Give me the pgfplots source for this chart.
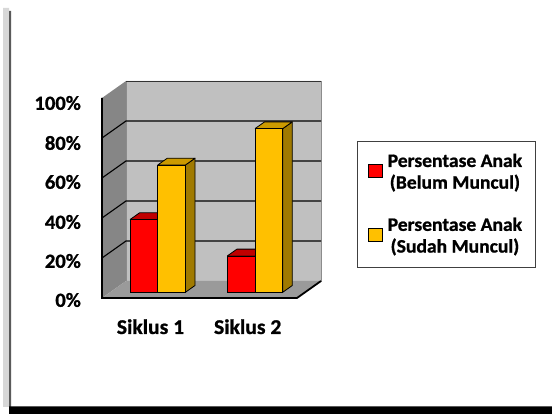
\documentclass[border=0pt]{standalone}
\usepackage{fontspec}
\setmainfont{Carlito}[FakeStretch=1.03, BoldFeatures={FakeBold=1}]
\usepackage{pgfplots}
\pgfplotsset{compat=1.18}
\definecolor{barred}{HTML}{FF0000}
\definecolor{redtop}{HTML}{C00000}
\definecolor{baryel}{HTML}{FFC000}
\definecolor{yeltop}{HTML}{CC9A00}
\definecolor{yelside}{HTML}{A07A00}
\definecolor{backwall}{HTML}{C0C0C0}
\definecolor{sidewall}{HTML}{868686}
\definecolor{floorc}{HTML}{9A9A9A}
\definecolor{frameline}{HTML}{5A5A5A}
\definecolor{shadowc}{HTML}{D8D8D8}
\begin{document}
\fontsize{19pt}{21.7pt}\selectfont\bfseries
\begin{tikzpicture}
\begin{axis}[
  x=1pt, y=2pt,
  xmin=0, xmax=552, ymin=-60.85, ymax=146.15,
  axis line style={draw=none},
  tick style={draw=none},
  major tick length=0pt,
  ytick={-3.85,15.65,35.15,55.15,74.65,94.65},
  yticklabels={0\%,20\%,40\%,60\%,80\%,100\%},
  xtick={150.5,247.7},
  xticklabels={Siklus 1,Siklus 2},
  tick label style={inner sep=0pt},
  y tick label style={anchor=east, xshift=81pt, font={\fontsize{20pt}{22pt}\selectfont\bfseries}},
  x tick label style={anchor=center, yshift=87.3pt, font={\fontsize{21pt}{23pt}\selectfont\bfseries}},
  clip=false,
  legend style={at={(0.8080,0.5060)}, anchor=center, draw=black!75,
    line width=0.6pt, fill=white, inner xsep=11pt, inner ysep=10pt,
    row sep=22pt, nodes={align=center, inner sep=2pt},
    font={\fontsize{19pt}{21.7pt}\selectfont\bfseries}},
  legend cell align=left,
]
% frame / shadow
\addplot[forget plot, fill=shadowc, draw=none] coordinates {(3,142.15) (9,142.15) (9,-57.35) (3,-57.35) (3,142.15)};
\addplot[forget plot, fill=frameline, draw=none] coordinates {(9,140.65) (11,140.65) (11,-57.35) (9,-57.35) (9,140.65)};
\addplot[forget plot, fill=black, draw=none] coordinates {(9,-57.1) (552,-57.1) (552,-60.85) (9,-60.85) (9,-57.1)};
% walls
\addplot[forget plot, fill=sidewall, draw=none] coordinates {(102,-2.85) (126,5.65) (126,105.65) (102,97.15) (102,-2.85)};
\addplot[forget plot, fill=backwall, draw=black!45, line width=0.5pt] coordinates {(126,5.65) (321,5.65) (321,105.65) (126,105.65) (126,5.65)};
\addplot[forget plot, fill=floorc, draw=none] coordinates {(102,-2.85) (297,-2.85) (321,5.65) (126,5.65) (102,-2.85)};
% gridlines
\addplot[forget plot, black, line width=1.1pt] coordinates {(102,17.15) (126,25.65) (321,25.65)};
\addplot[forget plot, black, line width=1.1pt] coordinates {(102,37.15) (126,45.65) (321,45.65)};
\addplot[forget plot, black, line width=1.1pt] coordinates {(102,57.15) (126,65.65) (321,65.65)};
\addplot[forget plot, black, line width=1.1pt] coordinates {(102,77.15) (126,85.65) (321,85.65)};
\addplot[forget plot, black!80, line width=0.8pt] coordinates {(126,105.65) (321,105.65)};
% axis edges
\addplot[forget plot, black, line width=1.8pt] coordinates {(102,97.15) (102,-2.85) (297,-2.85) (321,5.65)};
% red bar tops
\addplot[forget plot, fill=redtop, draw=black, line width=0.8pt, line join=round] coordinates {(130,36.36) (157.7,36.36) (167.3,39.76) (139.6,39.76) (130,36.36)};
\addplot[forget plot, fill=redtop, draw=black, line width=0.8pt, line join=round] coordinates {(227.3,18.18) (255,18.18) (264.6,21.58) (236.9,21.58) (227.3,18.18)};
% red fronts
\addplot[ybar, bar width=27.7, bar shift=0pt, fill=barred, draw=black, line width=0.8pt,
  legend image code/.code={\draw[fill=barred,draw=black,line width=0.8pt] (0pt,-5pt) rectangle (14pt,8pt); \path (17pt,0pt);}]
  coordinates {(143.85,36.36) (241.15,18.18)};
\addlegendentry{Persentase Anak\\(Belum Muncul)}
% yellow sides and tops
\addplot[forget plot, fill=yelside, draw=black, line width=0.8pt, line join=round] coordinates {(185.4,0) (195,3.4) (195,67.04) (185.4,63.64) (185.4,0)};
\addplot[forget plot, fill=yeltop, draw=black, line width=0.8pt, line join=round] coordinates {(157.7,63.64) (185.4,63.64) (195,67.04) (167.3,67.04) (157.7,63.64)};
\addplot[forget plot, fill=yelside, draw=black, line width=0.8pt, line join=round] coordinates {(282.7,0) (292.3,3.4) (292.3,85.22) (282.7,81.82) (282.7,0)};
\addplot[forget plot, fill=yeltop, draw=black, line width=0.8pt, line join=round] coordinates {(255,81.82) (282.7,81.82) (292.3,85.22) (264.6,85.22) (255,81.82)};
% yellow fronts
\addplot[ybar, bar width=27.7, bar shift=0pt, fill=baryel, draw=black, line width=0.8pt,
  legend image code/.code={\draw[fill=baryel,draw=black,line width=0.8pt] (0pt,-5pt) rectangle (14pt,8pt); \path (17pt,0pt);}]
  coordinates {(171.55,63.64) (268.85,81.82)};
\addlegendentry{Persentase Anak\\(Sudah Muncul)}
\end{axis}
\pgfresetboundingbox
\useasboundingbox (current axis.south west) rectangle (current axis.north east);
\end{tikzpicture}
\end{document}
